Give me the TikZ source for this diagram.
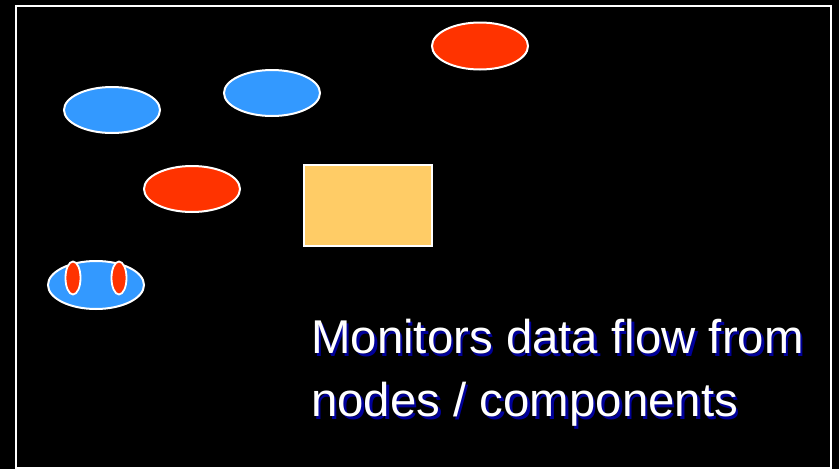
\documentclass[tikz,border=0pt]{standalone}
\usepackage{fontspec}
\setmainfont{Liberation Sans}
\usetikzlibrary{shapes.geometric}
\definecolor{blu}{HTML}{3399FF}
\definecolor{rd}{HTML}{FF3300}
\definecolor{box}{HTML}{FFCC66}
\definecolor{shd}{HTML}{000099}
\tikzset{
  blob/.style={ellipse, draw=white, line width=2pt, inner sep=0pt, minimum width=96pt, minimum height=46pt},
  blueblob/.style={blob, fill=blu},
  redblob/.style={blob, fill=rd},
  eye/.style={ellipse, draw=white, line width=1.8pt, fill=rd, inner sep=0pt, minimum width=15pt, minimum height=33pt},
  txt/.style={anchor=base west, inner sep=0pt, font=\fontsize{47.4}{64}\selectfont}
}
\begin{document}
\begin{tikzpicture}[x=1pt,y=-1pt]
\useasboundingbox (0,0) rectangle (839,469);
\fill[black] (0,0) rectangle (839,469);
\draw[white, line width=2pt] (16,6) rectangle (831,468);
\node[blueblob] (b1) at (112,110) {};
\node[blueblob] (b2) at (272,93) {};
\node[redblob, minimum height=47pt] (r1) at (480,46) {};
\node[redblob] (r2) at (192,189) {};
\node[draw=white, line width=2pt, fill=box, minimum width=128pt, minimum height=81pt, inner sep=0pt] (box) at (368,205.5) {};
\node[blueblob, minimum height=48pt] (b3) at (96,285) {};
\node[eye] (e1) at (73,278) {};
\node[eye] (e2) at (119,278) {};
\node[txt, text=shd] (s1) at (313.5,356) {Monitors data flow from};
\node[txt, text=shd] (s2) at (313.5,419) {nodes / components};
\node[txt, text=white] (t1) at (311,353.5) {Monitors data flow from};
\node[txt, text=white] (t2) at (311,416.5) {nodes / components};
\end{tikzpicture}
\end{document}
